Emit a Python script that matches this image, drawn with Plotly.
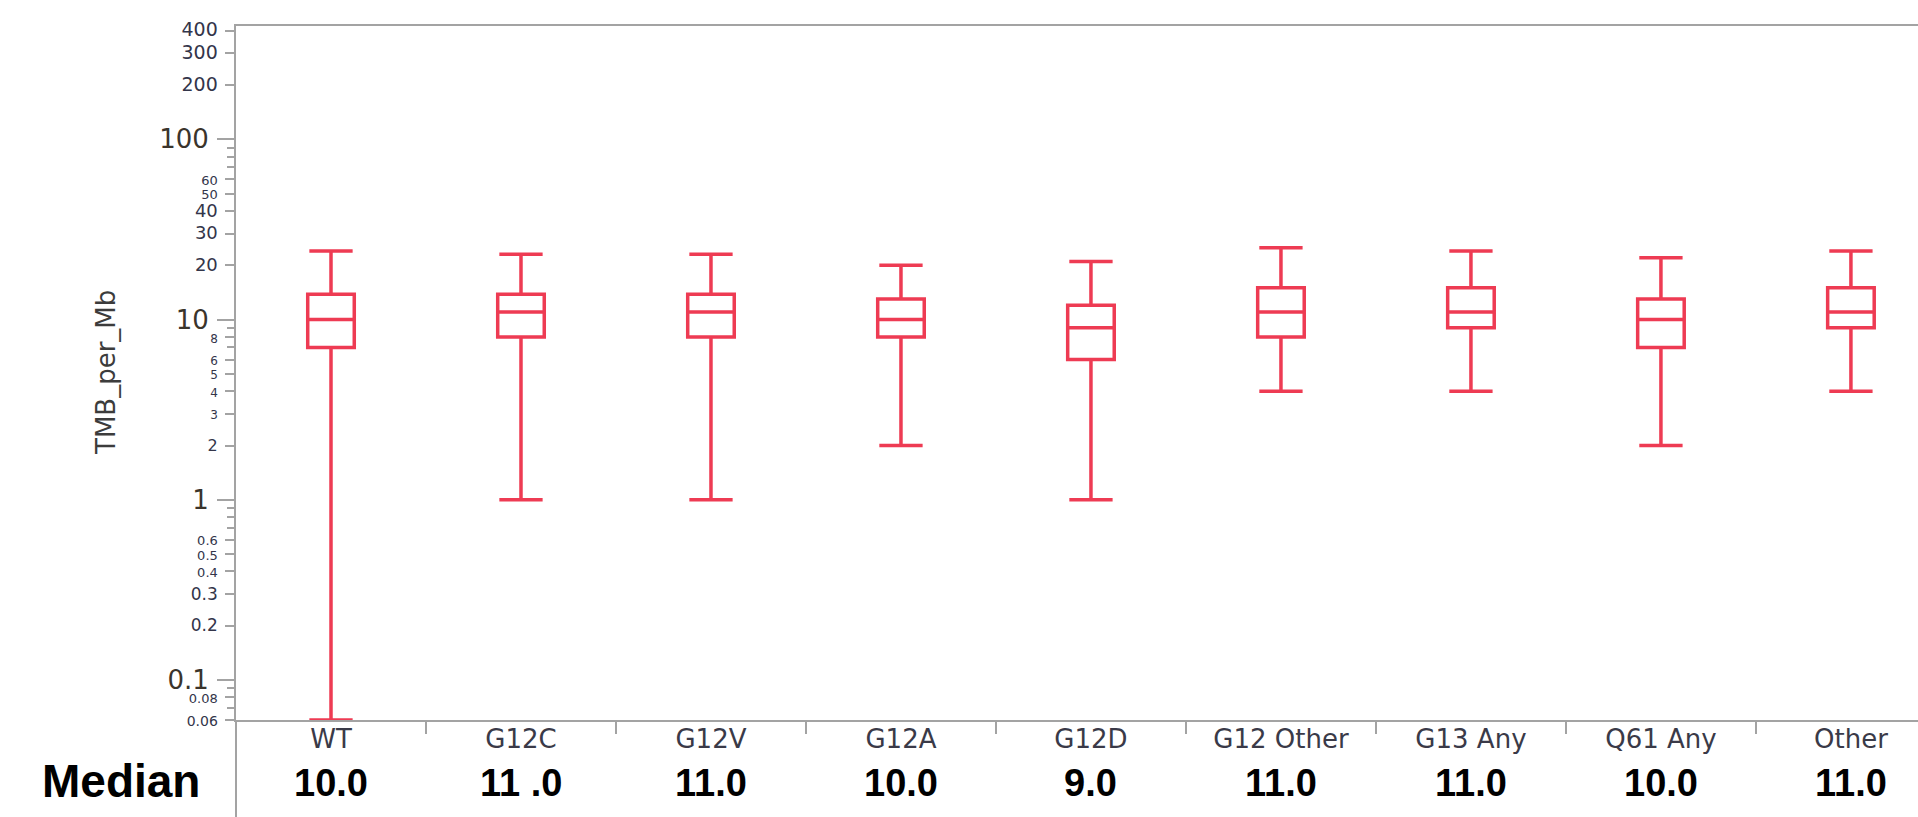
import math
import plotly.graph_objects as go

# ---- data ----
categories = ["WT", "G12C", "G12V", "G12A", "G12D", "G12 Other", "G13 Any", "Q61 Any", "Other"]
lower_whisker = [0.06, 1, 1, 2, 1, 4, 4, 2, 4]
q1_values = [7, 8, 8, 8, 6, 8, 9, 7, 9]
median_values = [10, 11, 11, 10, 9, 11, 11, 10, 11]
q3_values = [13.8, 13.8, 13.8, 13, 12, 15, 15, 13, 15]
upper_whisker = [24, 23, 23, 20, 21, 25, 24, 22, 24]
median_labels = ["10.0", "11 .0", "11.0", "10.0", "9.0", "11.0", "11.0", "10.0", "11.0"]

# y tick labels
small_tick_vals = [400, 300, 200, 60, 50, 40, 30, 20, 8, 6, 5, 4, 3, 2, 0.6, 0.5, 0.4, 0.3, 0.2, 0.08, 0.06]
small_tick_text = ["400", "300", "200", "60", "50", "40", "30", "20", "8", "6", "5", "4", "3", "2",
                   "0.6", "0.5", "0.4", "0.3", "0.2", "0.08", "0.06"]
small_tick_size = [19, 19, 19, 13, 13, 18, 18, 18, 12, 12, 12, 12, 12, 16, 13, 13, 13, 17, 17, 13, 14]
minor_tick_vals = [90, 80, 70, 9, 7, 0.9, 0.8, 0.7, 0.09, 0.07]
major_tick_vals = [100, 10, 1, 0.1]
major_tick_text = ["100", "10", "1", "0.1"]

Y_MIN, Y_MAX = 0.06, 425
RED = "#EE3B53"
AXIS_GREY = "#a3a3a3"

fig = go.Figure()
fig.add_trace(go.Box(
    x=categories,
    q1=q1_values,
    median=median_values,
    q3=q3_values,
    lowerfence=lower_whisker,
    upperfence=upper_whisker,
    boxpoints=False,
    width=0.245,
    whiskerwidth=0.93,
    line=dict(color=RED, width=3.5),
    fillcolor="rgba(255,255,255,0)",
    hoverinfo="skip",
    showlegend=False,
))
# invisible helper trace so the overlaid decade axis is drawn
fig.add_trace(go.Scatter(
    x=[categories[0]], y=[median_values[0]], yaxis="y2",
    mode="markers", marker=dict(opacity=0, size=1),
    hoverinfo="skip", showlegend=False,
))

yrange = [math.log10(Y_MIN), math.log10(Y_MAX)]

fig.update_layout(
    width=1918, height=817,
    margin=dict(l=236, r=0, t=26, b=97),
    plot_bgcolor="white", paper_bgcolor="white",
    showlegend=False,
    xaxis=dict(
        type="category",
        range=[-0.5, 8.353],
        showline=True, mirror=True, linecolor=AXIS_GREY, linewidth=2,
        ticks="outside", tickson="boundaries", ticklen=12, tickcolor=AXIS_GREY, tickwidth=2,
        tickfont=dict(family="DejaVu Sans", size=26, color="#3a3a48"),
        ticklabelstandoff=-5,
        showgrid=False, zeroline=False,
    ),
    yaxis=dict(
        type="log", range=yrange,
        showline=True, linecolor=AXIS_GREY, linewidth=2,
        ticks="outside", ticklen=9, tickcolor=AXIS_GREY, tickwidth=2,
        tickmode="array", tickvals=small_tick_vals,
        ticktext=[f'<span style="font-size:{s}px">{t}</span>' for t, s in zip(small_tick_text, small_tick_size)],
        tickfont=dict(family="DejaVu Sans", size=16, color="#33354a"),
        ticklabelstandoff=4,
        minor=dict(ticks="outside", ticklen=7, tickcolor=AXIS_GREY, tickwidth=2,
                   tickmode="array", tickvals=minor_tick_vals, showgrid=False),
        showgrid=False, zeroline=False,
    ),
    yaxis2=dict(
        type="log", range=yrange, overlaying="y", side="left", anchor="x",
        showline=False, showgrid=False, zeroline=False,
        ticks="outside", ticklen=18, tickcolor=AXIS_GREY, tickwidth=2,
        tickmode="array", tickvals=major_tick_vals, ticktext=major_tick_text,
        tickfont=dict(family="DejaVu Sans", size=26, color="#3a342c"),
        ticklabelstandoff=3,
    ),
)

plot_h = 817 - 26 - 97
plot_w = 1918 - 236

# y-axis title
fig.add_annotation(
    text="TMB_per_Mb", textangle=-90,
    xref="paper", yref="paper", x=(106 - 236) / plot_w, y=0.5,
    xanchor="center", yanchor="middle", showarrow=False,
    font=dict(family="DejaVu Sans", size=26, color="#3c3c3c"),
)

# Median row
fig.add_annotation(
    text="<b>Median</b>",
    xref="paper", yref="paper", x=(121 - 236) / plot_w, y=(720 - 781) / plot_h,
    xanchor="center", yanchor="middle", showarrow=False,
    font=dict(family="Liberation Sans", size=46, color="black"),
)
for cat, lab in zip(categories, median_labels):
    fig.add_annotation(
        text=f"<b>{lab}</b>",
        xref="x", yref="paper", x=cat, y=(720 - 783) / plot_h,
        xanchor="center", yanchor="middle", showarrow=False,
        font=dict(family="Liberation Sans", size=38, color="black"),
    )

# y-axis line continuing below the plot area
fig.add_shape(type="line", xref="paper", yref="paper",
              x0=0, x1=0, y0=0, y1=-(817 - 720) / plot_h,
              line=dict(color=AXIS_GREY, width=2))

fig.write_html("out.html", config={"displayModeBar": False},
               post_script="document.body.style.margin='0';document.body.style.overflow='hidden';")
